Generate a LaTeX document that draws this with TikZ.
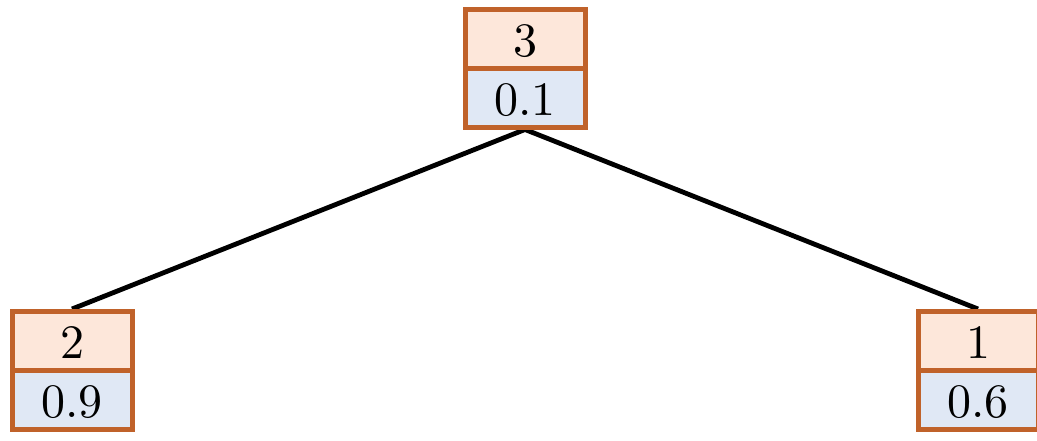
\documentclass[tikz,border=0pt]{standalone}
\usepackage{tikz}
\usepackage{graphicx}
\usetikzlibrary{shapes.multipart,backgrounds}
\definecolor{boxedge}{RGB}{192,98,42}
\definecolor{keyfill}{RGB}{253,231,218}
\definecolor{valfill}{RGB}{224,232,245}
\newcommand{\cellstrut}{\rule[-4.75pt]{0pt}{27pt}}
\newcommand{\cellnum}[1]{\cellstrut\scalebox{2.4}{#1}}

\begin{document}
\begin{tikzpicture}[x=0.5pt,y=-0.5pt,
  treenode/.style={rectangle split, rectangle split parts=2, draw=boxedge,
    line width=2.5pt, rectangle split part fill={keyfill,valfill},
    minimum width=60pt, inner xsep=0pt, inner ysep=0pt, anchor=north},
  link/.style={line width=2.4pt}]
  \useasboundingbox (0,0) rectangle (1037,440);
  \node[treenode] (n3) at (525,6.5) {\cellnum{3}\nodepart{two}\cellnum{0.1}};
  \node[treenode] (n2) at (72,309) {\cellnum{2}\nodepart{two}\cellnum{0.9}};
  \node[treenode] (n1) at (978,309) {\cellnum{1}\nodepart{two}\cellnum{0.6}};
  % edges behind the boxes
  \begin{scope}[on background layer]
    \draw[link] (n3.south) -- (n2.north);
    \draw[link] (n3.south) -- (n1.north);
  \end{scope}
\end{tikzpicture}
\end{document}
